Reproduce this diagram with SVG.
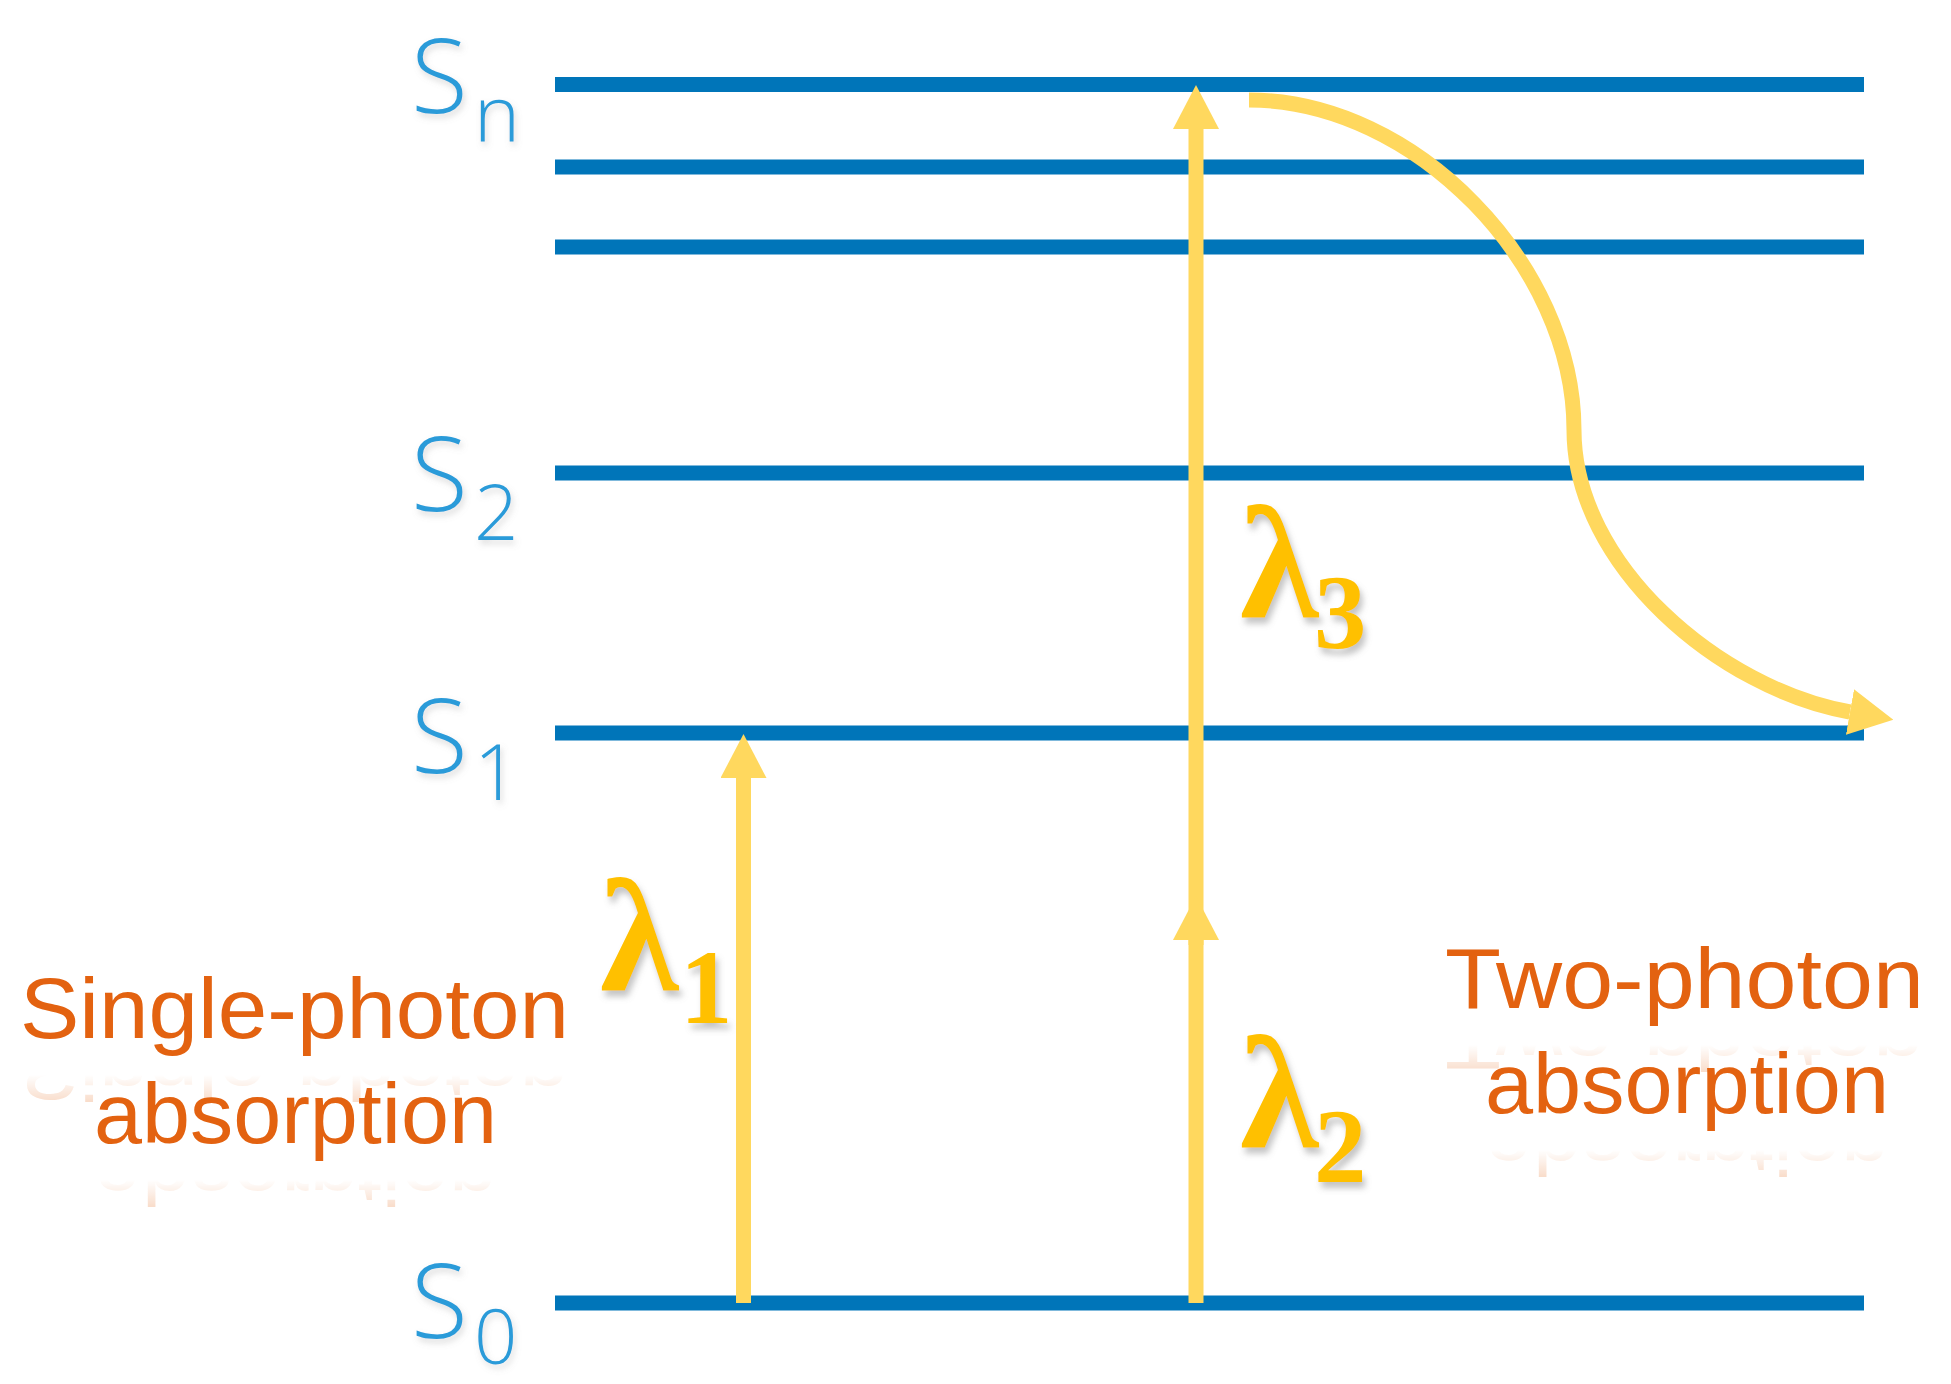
<svg xmlns="http://www.w3.org/2000/svg" xmlns:xlink="http://www.w3.org/1999/xlink" width="1951" height="1384" viewBox="0 0 1951 1384">
  <style>
    .level { stroke: #0075B9; stroke-width: 15; fill: none; }
    .photon { stroke: #FFD85E; stroke-width: 15; fill: none; stroke-linecap: butt; }
    .state { font-family: "Open Sans", "Liberation Sans", sans-serif; font-weight: 300; fill: #2A9BD9; filter: url(#softShadow); }
    .lam { font-family: "Liberation Serif", "DejaVu Serif", serif; font-weight: bold; fill: #FFC000; filter: url(#shadow); }
    .note { font-family: "Liberation Sans", Arial, sans-serif; fill: #E36210; font-size: 86px; text-anchor: middle; }
  </style>
  <defs>
    <marker id="head" viewBox="0 0 44 46" refX="0" refY="23" markerWidth="44" markerHeight="46" markerUnits="userSpaceOnUse" orient="auto">
      <path d="M0,0 L44,23 L0,46 Z" fill="#FFD85E"/>
    </marker>
    <filter id="shadow" x="-20%" y="-20%" width="140%" height="140%">
      <feDropShadow dx="3" dy="6" stdDeviation="3" flood-color="#7f7f7f" flood-opacity="0.45"/>
    </filter>
    <filter id="softShadow" x="-20%" y="-20%" width="140%" height="140%">
      <feDropShadow dx="2" dy="4" stdDeviation="3" flood-color="#8a8a8a" flood-opacity="0.3"/>
    </filter>
    <linearGradient id="fadeGrad" x1="0" y1="0" x2="0" y2="1">
      <stop offset="0.17" stop-color="#ffffff" stop-opacity="0.22"/>
      <stop offset="0.45" stop-color="#ffffff" stop-opacity="0"/>
    </linearGradient>
    <mask id="fade" maskContentUnits="objectBoundingBox" x="-0.1" y="-0.1" width="1.2" height="1.2">
      <rect x="0" y="0" width="1" height="1" fill="url(#fadeGrad)"/>
    </mask>
  </defs>

  <g id="levels">
    <line id="level-Sn-a" class="level" x1="555" y1="84.5" x2="1864" y2="84.5"/>
    <line id="level-Sn-b" class="level" x1="555" y1="167" x2="1864" y2="167"/>
    <line id="level-Sn-c" class="level" x1="555" y1="247" x2="1864" y2="247"/>
    <line id="level-S2" class="level" x1="555" y1="473" x2="1864" y2="473"/>
    <line id="level-S1" class="level" x1="555" y1="733" x2="1864" y2="733"/>
    <line id="level-S0" class="level" x1="555" y1="1303" x2="1864" y2="1303"/>
  </g>

  <g id="state-labels">
    <g id="label-Sn"><text class="state" font-size="104" x="411" y="113">S</text><text class="state" font-size="78" x="474" y="142">n</text></g>
    <g id="label-S2"><text class="state" font-size="104" x="411" y="511">S</text><text class="state" font-size="78" x="474" y="540">2</text></g>
    <g id="label-S1"><text class="state" font-size="104" x="411" y="773">S</text><text class="state" font-size="78" x="474" y="800">1</text></g>
    <g id="label-S0"><text class="state" font-size="104" x="411" y="1338">S</text><text class="state" font-size="76" x="474" y="1364">0</text></g>
  </g>

  <g id="connectors">
    <line id="arrow-lambda1" class="photon" x1="743.5" y1="1303" x2="743.5" y2="778" marker-end="url(#head)"/>
    <line id="arrow-lambda3" class="photon" x1="1196" y1="945" x2="1196" y2="129" marker-end="url(#head)"/>
    <line id="arrow-lambda2" class="photon" x1="1196" y1="1303" x2="1196" y2="940" marker-end="url(#head)"/>
    <path id="arrow-relax" class="photon" d="M1249,100 C1415,100 1574,265 1574,430 C1574,565 1720,689 1850,712" marker-end="url(#head)"/>
  </g>

  <g id="wavelength-labels">
    <text id="lambda1" class="lam"><tspan x="600" y="990" font-size="160">λ</tspan><tspan x="680" y="1023" font-size="105">1</tspan></text>
    <text id="lambda2" class="lam"><tspan x="1240" y="1147" font-size="160">λ</tspan><tspan x="1314" y="1182" font-size="105">2</tspan></text>
    <text id="lambda3" class="lam"><tspan x="1240" y="617" font-size="160">λ</tspan><tspan x="1314" y="648" font-size="105">3</tspan></text>
  </g>

  <g id="note-single">
    <text id="t-single1" class="note" x="294.5" y="1038" textLength="549" lengthAdjust="spacingAndGlyphs">Single-photon</text>
    <text id="t-single2" class="note" x="295.5" y="1143" textLength="403" lengthAdjust="spacingAndGlyphs">absorption</text>
    <use href="#t-single1" xlink:href="#t-single1" transform="matrix(1 0 0 -1 0 2078)" mask="url(#fade)"/>
    <use href="#t-single2" xlink:href="#t-single2" transform="matrix(1 0 0 -1 0 2288)" mask="url(#fade)"/>
  </g>
  <g id="note-two">
    <text id="t-two1" class="note" x="1684.5" y="1008" textLength="479" lengthAdjust="spacingAndGlyphs">Two-photon</text>
    <text id="t-two2" class="note" x="1687" y="1113" textLength="404" lengthAdjust="spacingAndGlyphs">absorption</text>
    <use href="#t-two1" xlink:href="#t-two1" transform="matrix(1 0 0 -1 0 2018)" mask="url(#fade)"/>
    <use href="#t-two2" xlink:href="#t-two2" transform="matrix(1 0 0 -1 0 2228)" mask="url(#fade)"/>
  </g>
</svg>
